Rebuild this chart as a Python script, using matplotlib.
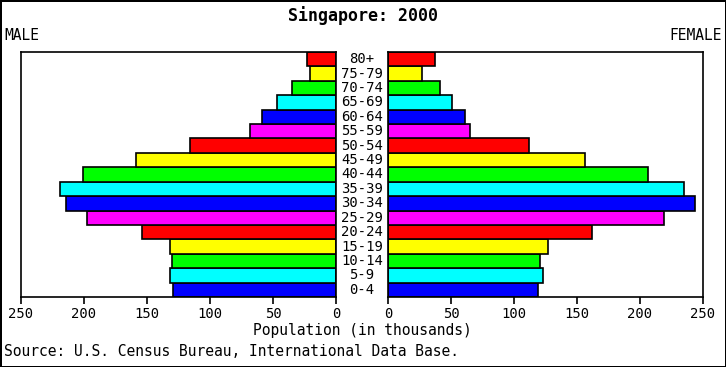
import matplotlib
matplotlib.use("Agg")
import matplotlib.pyplot as plt

ages = ["0-4", "5-9", "10-14", "15-19", "20-24", "25-29", "30-34", "35-39",
        "40-44", "45-49", "50-54", "55-59", "60-64", "65-69", "70-74", "75-79", "80+"]
male = [129, 132, 130, 132, 154, 198, 214, 219, 201, 159, 116, 68, 59, 47, 35, 21, 23]
female = [119, 123, 121, 127, 162, 219, 244, 235, 206, 156, 112, 65, 61, 51, 41, 27, 37]
ticks = [0, 50, 100, 150, 200, 250]

palette = ["#0000ff", "#00ffff", "#00ff00", "#ffff00", "#ff0000", "#ff00ff"]
colors = [palette[i % 6] for i in range(len(ages))]

plt.rcParams["font.family"] = "DejaVu Sans Mono"

fig = plt.figure(figsize=(7.26, 3.67), dpi=100)
fig.patch.set_edgecolor("black")
fig.patch.set_linewidth(2)

# M - male panel, F - female panel
M_ax = fig.add_axes([21 / 726, 1 - 297 / 367, 315 / 726, 245 / 367])
F_ax = fig.add_axes([388 / 726, 1 - 297 / 367, 315 / 726, 245 / 367])

y = range(len(ages))
M_ax.barh(y, male, height=1.0, color=colors, edgecolor="black", linewidth=1.2)
F_ax.barh(y, female, height=1.0, color=colors, edgecolor="black", linewidth=1.2)

for ax in (M_ax, F_ax):
    ax.set_ylim(-0.5, len(ages) - 0.5)
    ax.set_yticks([])
    ax.set_xticks(ticks)
    ax.tick_params(axis="x", direction="out", length=5, width=1.2, labelsize=10, pad=2)
    for s in ax.spines.values():
        s.set_linewidth(1.2)

M_ax.set_xlim(250, 0)
F_ax.set_xlim(0, 250)

for i, a in enumerate(ages):
    fig.text(362 / 726, 1 - (297 - (i + 0.5) * 245 / 17) / 367, a,
             ha="center", va="center", fontsize=10)

fig.text(0.5, 1 - 16 / 367, "Singapore: 2000", ha="center", va="center",
         fontsize=12, fontweight="bold")
fig.text(4 / 726, 1 - 36 / 367, "MALE", ha="left", va="center", fontsize=10.5)
fig.text(722 / 726, 1 - 36 / 367, "FEMALE", ha="right", va="center", fontsize=10.5)
fig.text(362 / 726, 1 - 331 / 367, "Population (in thousands)", ha="center",
         va="center", fontsize=10.5)
fig.text(4 / 726, 1 - 352 / 367, "Source: U.S. Census Bureau, International Data Base.",
         ha="left", va="center", fontsize=10.5)

fig.savefig("out.png", dpi=100)
